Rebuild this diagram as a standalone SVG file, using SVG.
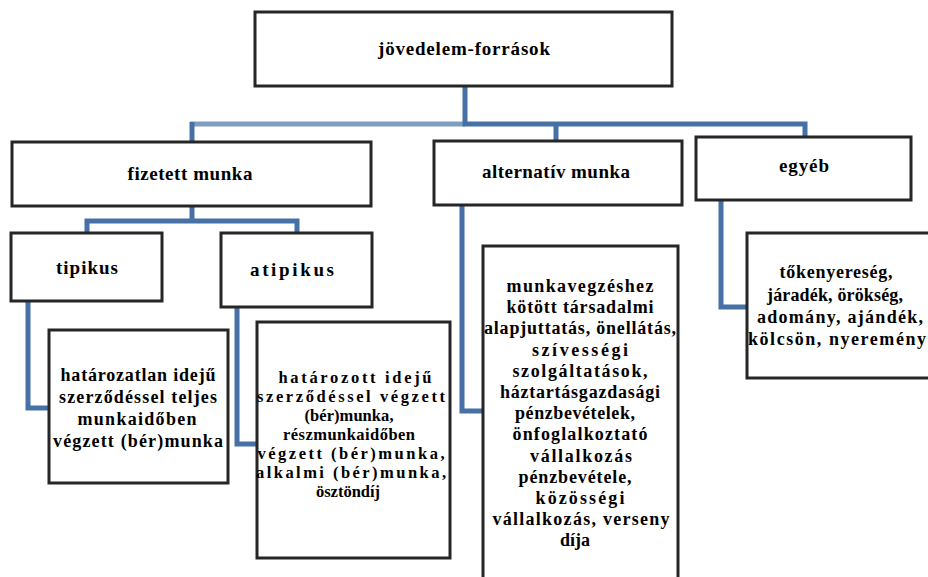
<svg xmlns="http://www.w3.org/2000/svg" width="928" height="577" viewBox="0 0 928 577">
<style>
.box{fill:#fff;stroke:#262626;stroke-width:3}
.con{fill:none;stroke:#4670a6;stroke-width:5;stroke-linejoin:miter;stroke-linecap:butt}
.con2{fill:none;stroke:#7f9cc2;stroke-width:5}
text{font-family:"Liberation Serif","Times New Roman",serif;font-weight:bold;fill:#000;text-anchor:middle}
.h{font-size:19px}
.t{font-size:18px}
.s{font-size:16.5px}
</style>
<rect width="928" height="577" fill="#fff"/>
<g id="connectors">
<path class="con2" d="M190,124 H465"/>
<path class="con" d="M465,86 V124 H805 V137"/>
<path class="con" d="M192,122 V142"/>
<path class="con" d="M556,124 V141"/>
<path class="con" d="M192,206 V221"/>
<path class="con" d="M87,233 V221 H297 V233"/>
<path class="con" d="M28,301 V408 H49"/>
<path class="con" d="M237,307 V444 H257"/>
<path class="con" d="M462,205 V411 H483"/>
<path class="con" d="M721,200 V307 H747"/>
</g>
<g id="n-root">
<rect class="box" x="255" y="12" width="417" height="74"/>
<text class="h" x="464" y="55" textLength="172">jövedelem-források</text>
</g>
<g id="n-fizetett">
<rect class="box" x="12" y="142" width="359" height="64"/>
<text class="h" x="190" y="180" textLength="125">fizetett munka</text>
</g>
<g id="n-alternativ">
<rect class="box" x="434" y="141" width="248" height="64"/>
<text class="h" x="556" y="178" textLength="148">alternatív munka</text>
</g>
<g id="n-egyeb">
<rect class="box" x="696" y="137" width="215" height="63"/>
<text class="h" x="804" y="172" textLength="50">egyéb</text>
</g>
<g id="n-tipikus">
<rect class="box" x="11" y="233" width="151" height="68"/>
<text class="h" x="87" y="274" textLength="62">tipikus</text>
</g>
<g id="n-atipikus">
<rect class="box" x="221" y="233" width="151" height="74"/>
<text class="h" x="292" y="276" textLength="84">atipikus</text>
</g>
<g id="n-tipikus-desc">
<rect class="box" x="49" y="330" width="179" height="153"/>
<text class="t" x="138" y="381" textLength="155">határozatlan idejű</text>
<text class="t" x="138" y="403" textLength="158">szerződéssel teljes</text>
<text class="t" x="137" y="425" textLength="119">munkaidőben</text>
<text class="t" x="138" y="447" textLength="170">végzett (bér)munka</text>
</g>
<g id="n-atipikus-desc">
<rect class="box" x="257" y="322" width="193" height="236"/>
<text class="s" x="355" y="383" textLength="153">határozott idejű</text>
<text class="s" x="351" y="402" textLength="188">szerződéssel végzett</text>
<text class="s" x="349" y="421" textLength="89">(bér)munka,</text>
<text class="s" x="349" y="440" textLength="132">részmunkaidőben</text>
<text class="s" x="351" y="459" textLength="187">végzett (bér)munka,</text>
<text class="s" x="351" y="478" textLength="190">alkalmi (bér)munka,</text>
<text class="s" x="348" y="497">ösztöndíj</text>
</g>
<g id="n-alternativ-desc">
<rect class="box" x="483" y="246" width="195" height="360"/>
<text class="t" x="580" y="292" textLength="147">munkavegzéshez</text>
<text class="t" x="580" y="313" textLength="147">kötött társadalmi</text>
<text class="t" x="580" y="334" textLength="192">alapjuttatás, önellátás,</text>
<text class="t" x="580" y="356" textLength="96">szívességi</text>
<text class="t" x="580" y="377" textLength="135">szolgáltatások,</text>
<text class="t" x="580" y="398" textLength="160">háztartásgazdasági</text>
<text class="t" x="575" y="419" textLength="120">pénzbevételek,</text>
<text class="t" x="580" y="440" textLength="135">önfoglalkoztató</text>
<text class="t" x="581" y="462" textLength="102">vállalkozás</text>
<text class="t" x="575" y="483" textLength="113">pénzbevétele,</text>
<text class="t" x="580" y="504" textLength="89">közösségi</text>
<text class="t" x="581" y="525" textLength="177">vállalkozás, verseny</text>
<text class="t" x="575" y="546">díja</text>
</g>
<g id="n-egyeb-desc">
<rect class="box" x="747" y="233" width="183" height="145"/>
<text class="t" x="836" y="278" textLength="113">tőkenyereség,</text>
<text class="t" x="835" y="301" textLength="136">járadék, örökség,</text>
<text class="t" x="840" y="323" textLength="166">adomány, ajándék,</text>
<text class="t" x="837" y="345" textLength="178">kölcsön, nyeremény</text>
</g>
</svg>
